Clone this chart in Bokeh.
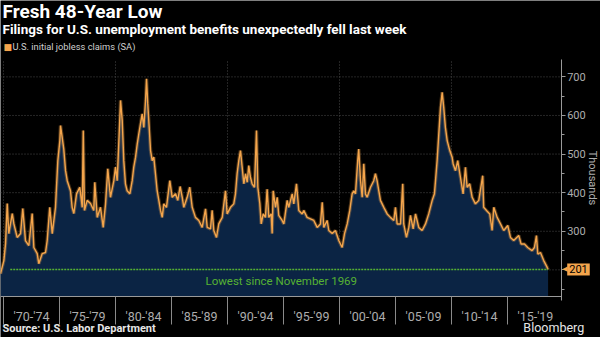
import math
from bokeh.plotting import figure
from bokeh.models import FixedTicker, Label, Range1d
from bokeh.embed import file_html
from bokeh.resources import INLINE

# ---- data ----
years = [
    1969.73, 1970.03, 1970.18, 1970.33, 1970.47, 1970.78, 1970.92, 1971.22, 1971.52, 1971.72,
    1971.96, 1972.26, 1972.56, 1972.71, 1973.01, 1973.15, 1973.45, 1973.75, 1973.90, 1974.13,
    1974.35, 1974.64, 1974.85, 1975.03, 1975.09, 1975.24, 1975.38, 1975.54, 1975.69, 1975.98,
    1976.13, 1976.28, 1976.52, 1976.81, 1977.03, 1977.12, 1977.23, 1977.47, 1977.77, 1978.06,
    1978.15, 1978.37, 1978.66, 1978.90, 1979.11, 1979.31, 1979.55, 1979.85, 1980.00, 1980.15,
    1980.29, 1980.45, 1980.60, 1980.74, 1980.89, 1981.04, 1981.28, 1981.49, 1981.63, 1981.79,
    1981.94, 1982.08, 1982.23, 1982.38, 1982.53, 1982.68, 1982.77, 1982.88, 1983.01, 1983.13,
    1983.28, 1983.42, 1983.57, 1983.72, 1983.87, 1984.02, 1984.17, 1984.31, 1984.55, 1984.85,
    1985.06, 1985.36, 1985.56, 1985.77, 1985.96, 1986.10, 1986.40, 1986.63, 1986.85, 1987.14,
    1987.44, 1987.74, 1988.04, 1988.19, 1988.48, 1988.63, 1988.78, 1989.02, 1989.22, 1989.53,
    1989.82, 1989.97, 1990.27, 1990.56, 1990.71, 1990.86, 1991.01, 1991.16, 1991.31, 1991.46,
    1991.61, 1991.76, 1991.90, 1992.05, 1992.20, 1992.41, 1992.59, 1992.71, 1992.89, 1993.01,
    1993.19, 1993.39, 1993.54, 1993.69, 1993.90, 1993.99, 1994.08, 1994.29, 1994.44, 1994.58,
    1994.88, 1995.03, 1995.33, 1995.47, 1995.78, 1995.92, 1996.16, 1996.37, 1996.67, 1996.81,
    1997.11, 1997.41, 1997.71, 1998.01, 1998.30, 1998.46, 1998.60, 1998.90, 1999.05, 1999.35,
    1999.64, 1999.94, 2000.24, 2000.45, 2000.69, 2000.92, 2001.13, 2001.28, 2001.43, 2001.63,
    2001.72, 2001.88, 2002.03, 2002.17, 2002.32, 2002.47, 2002.77, 2003.06, 2003.21, 2003.36,
    2003.51, 2003.66, 2003.96, 2004.26, 2004.55, 2004.85, 2005.00, 2005.15, 2005.45, 2005.65,
    2005.74, 2005.98, 2006.19, 2006.34, 2006.58, 2006.79, 2007.08, 2007.38, 2007.68, 2007.97,
    2008.28, 2008.48, 2008.72, 2008.87, 2009.02, 2009.17, 2009.31, 2009.46, 2009.62, 2009.85,
    2010.06, 2010.15, 2010.36, 2010.56, 2010.80, 2011.04, 2011.25, 2011.40, 2011.63, 2011.85,
    2012.14, 2012.44, 2012.79, 2012.88, 2013.13, 2013.42, 2013.63, 2013.78, 2014.08, 2014.38,
    2014.67, 2015.03, 2015.27, 2015.56, 2016.01, 2016.22, 2016.52, 2016.81, 2017.20, 2017.41,
    2017.59, 2017.71, 2017.95, 2018.24, 2018.54, 2018.63,
]
claims = [
    190, 224, 268, 372, 294, 346, 320, 284, 294, 359,
    276, 263, 346, 258, 242, 216, 242, 245, 276, 362,
    294, 362, 483, 535, 574, 543, 513, 457, 431, 405,
    362, 346, 397, 414, 362, 561, 354, 380, 372, 354,
    427, 336, 362, 310, 371, 462, 388, 431, 466, 431,
    526, 639, 587, 483, 423, 405, 397, 431, 466, 492,
    526, 552, 578, 604, 569, 639, 695, 630, 569, 509,
    483, 492, 449, 405, 380, 354, 336, 371, 362, 431,
    388, 397, 380, 416, 388, 362, 388, 414, 362, 336,
    328, 310, 358, 310, 306, 354, 302, 284, 319, 336,
    405, 345, 362, 371, 397, 449, 483, 509, 466, 423,
    449, 427, 470, 440, 423, 414, 561, 414, 371, 319,
    345, 336, 409, 336, 345, 294, 405, 362, 388, 341,
    328, 319, 380, 362, 397, 371, 423, 354, 345, 354,
    336, 332, 328, 310, 319, 375, 310, 328, 302, 294,
    302, 276, 258, 294, 319, 354, 397, 405, 397, 483,
    513, 431, 388, 475, 397, 388, 414, 431, 449, 431,
    405, 380, 362, 345, 336, 328, 362, 319, 319, 423,
    319, 284, 310, 341, 306, 345, 310, 302, 319, 345,
    380, 397, 483, 552, 621, 660, 621, 569, 535, 509,
    492, 475, 457, 483, 440, 397, 466, 414, 423, 388,
    371, 380, 444, 362, 354, 345, 302, 362, 336, 319,
    302, 315, 284, 276, 289, 267, 267, 258, 250, 258,
    289, 241, 245, 224, 207, 201,
]
period_labels = ["'70-'74", "'75-'79", "'80-'84", "'85-'89", "'90-'94",
                 "'95-'99", "'00-'04", "'05-'09", "'10-'14", "'15-'19"]
period_starts = [1970, 1975, 1980, 1985, 1990, 1995, 2000, 2005, 2010, 2015]
y_ticks = [300, 400, 500, 600, 700]
y_minor = [150, 200, 250, 350, 450, 550, 650]
grid_values = [200, 300, 400, 500, 600, 700]
grid_years = [1970, 1980, 1990, 2000, 2010]
latest = claims[-1]
low_line_start = 1970.6
low_note = "Lowest since November 1969"

ORANGE = "#f4a54c"
FILL = "#0b2444"
GREEN = "#56b233"
GRAY = "#adadad"
GRID = "#4a4a4a"

# ---- layout: the frame covers the whole canvas; the plotting area is
# x in [X0, X_AX] (pixels 0..560.7) and y in [Y0, Y1] (pixels 296..59)
W, H = 600, 337
X0, X_AX = 1969.73, 2019.8
AREA_LEFT, AREA_RIGHT = 0.0, 560.7
Y0, Y1 = 131, 745
AREA_TOP, AREA_BOTTOM = 59.0, 296.0
ppx = (AREA_RIGHT - AREA_LEFT) / (X_AX - X0)
ppy = (AREA_BOTTOM - AREA_TOP) / (Y1 - Y0)
x_range = Range1d(X0 - AREA_LEFT / ppx, X_AX + (W - AREA_RIGHT) / ppx)
y_range = Range1d(Y0 - (H - AREA_BOTTOM) / ppy, Y1 + AREA_TOP / ppy)

p = figure(width=W, height=H, output_backend="svg", toolbar_location=None,
           x_range=x_range, y_range=y_range, y_axis_location="right",
           min_border=0, min_border_left=0, min_border_right=0,
           min_border_top=0, min_border_bottom=0,
           background_fill_color="black", border_fill_color="black",
           outline_line_color=None)
p.grid.visible = False

# dotted grid, limited to the plotting area
p.segment(x0=[X0] * len(grid_values), y0=grid_values,
          x1=[X_AX] * len(grid_values), y1=grid_values,
          line_color=GRID, line_dash="1 2", line_width=1)
p.segment(x0=grid_years, y0=[Y0] * len(grid_years),
          x1=grid_years, y1=[Y1] * len(grid_years),
          line_color=GRID, line_dash="1 2", line_width=1)

# x axis: labels centred in each 5-year period, separators as minor ticks
mids = [s + 2.5 for s in period_starts]
xa = p.xaxis[0]
xa.fixed_location = Y0
xa.bounds = (X0, X_AX)
xa.ticker = FixedTicker(ticks=mids, minor_ticks=period_starts)
xa.major_label_overrides = {m: l for m, l in zip(mids, period_labels)}
xa.major_tick_line_color = None
xa.major_tick_out = 0
xa.major_tick_in = 0
xa.minor_tick_in = 0
xa.minor_tick_out = 28
xa.minor_tick_line_color = "#8a8a8a"
xa.axis_line_color = "#9a9a9a"
xa.major_label_standoff = -16
xa.major_label_text_color = GRAY
xa.major_label_text_font = "Roboto"
xa.major_label_text_font_size = "12.5px"

# y axis on the right edge of the plotting area
ya = p.yaxis[0]
ya.fixed_location = X_AX
ya.bounds = (Y0 - 4 / ppy, Y1)
ya.ticker = FixedTicker(ticks=y_ticks, minor_ticks=y_minor)
ya.axis_line_color = "#9a9a9a"
ya.major_tick_out = 4
ya.major_tick_in = 0
ya.minor_tick_out = 3
ya.minor_tick_in = 0
ya.major_tick_line_color = "#9a9a9a"
ya.minor_tick_line_color = "#9a9a9a"
ya.major_label_standoff = 2
ya.major_label_text_color = GRAY
ya.major_label_text_font = "Roboto"
ya.major_label_text_font_size = "11px"

# data
p.varea(x=years, y1=Y0, y2=claims, fill_color=FILL)
p.line(years, claims, line_color=ORANGE, line_width=3.5, line_alpha=0.3)
p.line(years, claims, line_color=ORANGE, line_width=1.4)
p.line([low_line_start, years[-1]], [latest, latest], line_color=GREEN,
       line_width=1.5, line_dash="2 1")

p.add_layout(Label(x=1994.8, y=latest, y_offset=-5, text=low_note,
                   text_align="center", text_baseline="top", text_color=GREEN,
                   text_font="Roboto", text_font_size="11.5px"))

# latest value marker on the axis
p.add_layout(Label(x=X_AX, y=latest, x_offset=6, text=str(latest),
                   text_align="left", text_baseline="middle", text_color="black",
                   text_font="Roboto", text_font_size="11px",
                   background_fill_color=ORANGE, padding=2))
p.add_layout(Label(x=X_AX, y=latest, x_offset=1, text="\u25c0",
                   text_align="left", text_baseline="middle", text_color=ORANGE,
                   text_font="DejaVu Sans", text_font_size="7px"))
p.add_layout(Label(x=X_AX, y=438, x_offset=31, text="Thousands", angle=-math.pi / 2,
                   text_align="center", text_baseline="middle", text_color=GRAY,
                   text_font="Roboto", text_font_size="11px"))

# header
p.add_layout(Label(x=X0, y=Y1, x_offset=2, y_offset=37, text="Fresh 48-Year Low",
                   text_color="white", text_font="Roboto", text_font_style="bold",
                   text_font_size="19px"))
p.add_layout(Label(x=X0, y=Y1, x_offset=2, y_offset=23,
                   text="Filings for U.S. unemployment benefits unexpectedly fell last week",
                   text_color="white", text_font="Roboto", text_font_style="bold",
                   text_font_size="13.5px"))
p.add_layout(Label(x=X0, y=Y1, x_offset=3, y_offset=8, text="\u25a0",
                   text_color=ORANGE, text_font="DejaVu Sans", text_font_size="9px"))
p.add_layout(Label(x=X0, y=Y1, x_offset=12, y_offset=8,
                   text="U.S. initial jobless claims (SA)",
                   text_color="#cfcfcf", text_font="Roboto", text_font_size="9.3px"))

# footer
p.add_layout(Label(x=X0, y=Y0, x_offset=2, y_offset=-38,
                   text="Source: U.S. Labor Department",
                   text_color="#e6e6e6", text_font="Roboto", text_font_style="bold",
                   text_font_size="11px"))
p.add_layout(Label(x=X_AX, y=Y0, x_offset=23, y_offset=-38, text="Bloomberg",
                   text_align="right", text_color="#e6e6e6", text_font="Roboto",
                   text_font_size="12.5px"))

open("out.html", "w").write(file_html(p, INLINE))
